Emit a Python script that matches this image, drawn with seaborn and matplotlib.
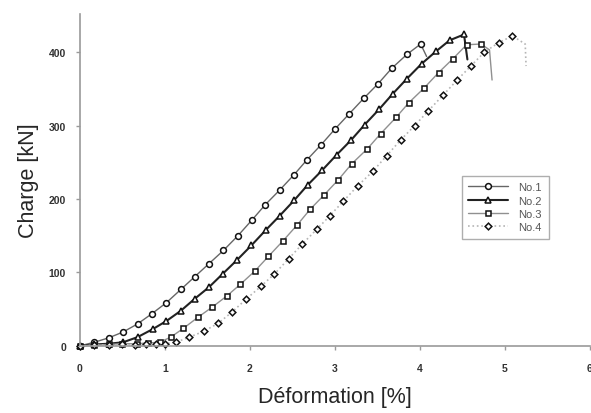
import pandas as pd
import seaborn as sns
import matplotlib.pyplot as plt

# load-strain curves, last points are the post-peak drop
x1 = [0, 0.17, 0.34, 0.51, 0.68, 0.85, 1.02, 1.19, 1.35, 1.52, 1.69, 1.86, 2.03,
      2.18, 2.35, 2.52, 2.67, 2.84, 3.0, 3.17, 3.34, 3.51, 3.67, 3.85, 4.01, 4.08]
y1 = [0, 5, 11, 19, 30, 44, 59, 77, 94, 112, 130, 150, 172,
      192, 212, 233, 253, 274, 295, 316, 337, 357, 378, 397, 411, 394]

x2 = [0, 0.17, 0.34, 0.51, 0.68, 0.86, 1.02, 1.19, 1.35, 1.52, 1.68, 1.85, 2.02,
      2.19, 2.35, 2.52, 2.68, 2.85, 3.02, 3.19, 3.35, 3.52, 3.68, 3.85, 4.02,
      4.19, 4.35, 4.52, 4.56]
y2 = [0, 2, 3, 5, 12, 23, 34, 48, 64, 80, 98, 117, 137,
      158, 177, 198, 219, 239, 260, 280, 301, 322, 343, 364, 384,
      401, 416, 424, 390]

x3 = [0, 0.17, 0.34, 0.5, 0.67, 0.8, 0.94, 1.07, 1.22, 1.39, 1.56, 1.73, 1.89,
      2.06, 2.22, 2.39, 2.56, 2.71, 2.87, 3.04, 3.2, 3.38, 3.54, 3.72, 3.87,
      4.05, 4.22, 4.39, 4.55, 4.72, 4.82, 4.85]
y3 = [0, 1, 2, 3, 3, 4, 5, 12, 24, 39, 53, 68, 84,
      102, 122, 143, 165, 186, 205, 226, 248, 268, 289, 311, 331,
      351, 372, 391, 410, 411, 403, 362]

x4 = [0, 0.17, 0.34, 0.5, 0.65, 0.78, 0.9, 1.0, 1.13, 1.29, 1.46, 1.63, 1.79,
      1.96, 2.13, 2.29, 2.46, 2.62, 2.79, 2.94, 3.1, 3.27, 3.45, 3.61, 3.78,
      3.94, 4.1, 4.27, 4.44, 4.6, 4.76, 4.93, 5.09, 5.24, 5.25]
y4 = [0, 1, 1, 2, 1, 2, 2, 3, 5, 12, 20, 31, 46,
      64, 81, 98, 119, 139, 159, 177, 197, 218, 238, 259, 281,
      300, 320, 341, 362, 381, 400, 413, 422, 411, 381]

names = ["No.1", "No.2", "No.3", "No.4"]
xs = [x1, x2, x3, x4]
ys = [y1, y2, y3, y4]
# how many trailing points (the drop) carry no marker
tails = [1, 1, 2, 2]

styles = [
    dict(color="#666666", lw=1.0, ls="-", marker="o", ms=4.2),
    dict(color="#222222", lw=1.5, ls="-", marker="^", ms=4.2),
    dict(color="#909090", lw=1.0, ls="-", marker="s", ms=3.6),
    dict(color="#b5b5b5", lw=1.2, ls=":", marker="D", ms=3.4),
]

sns.set_style("white")
plt.rcParams["font.family"] = ["Liberation Sans", "DejaVu Sans"]

fig = plt.figure(figsize=(5.91, 4.14), dpi=100)
ax = fig.add_axes([0.135, 0.162, 0.863, 0.802])

for name, x, y, tail, st in zip(names, xs, ys, tails, styles):
    df = pd.DataFrame({"x": x, "y": y})
    sns.lineplot(
        data=df, x="x", y="y", ax=ax, sort=False, estimator=None,
        color=st["color"], linewidth=st["lw"], linestyle=st["ls"],
        marker=st["marker"], markersize=st["ms"], markerfacecolor="white",
        markeredgecolor="#111111", markeredgewidth=1.1,
        markevery=list(range(len(x) - tail)), label=name, clip_on=False,
    )

ax.set_xlim(0, 6)
ax.set_ylim(0, 452)
ax.set_xticks(range(0, 7))
ax.set_yticks([0, 100, 200, 300, 400])
sns.despine(ax=ax)
for s in ("left", "bottom"):
    ax.spines[s].set_color("#9a9a9a")
    ax.spines[s].set_linewidth(1.2)
ax.tick_params(direction="out", length=3, width=1, color="#9a9a9a",
               labelsize=7.5, labelcolor="#333333", bottom=True, left=True)
ax.tick_params(axis="x", pad=9)
ax.tick_params(axis="y", pad=7)
for t in ax.get_xticklabels() + ax.get_yticklabels():
    t.set_fontweight("bold")

ax.set_xlabel("Déformation [%]", fontsize=15.5, labelpad=10)
ax.set_ylabel("Charge [kN]", fontsize=15.5, labelpad=7)

leg = ax.legend(loc="upper left", bbox_to_anchor=(0.738, 0.53), fontsize=8,
                frameon=True, fancybox=False, edgecolor="#9a9a9a",
                handlelength=3.6, labelspacing=0.3, borderpad=0.6,
                handletextpad=0.9)
leg.get_frame().set_linewidth(1.0)
for t in leg.get_texts():
    t.set_color("#555555")

plt.savefig("out.png", dpi=100)
